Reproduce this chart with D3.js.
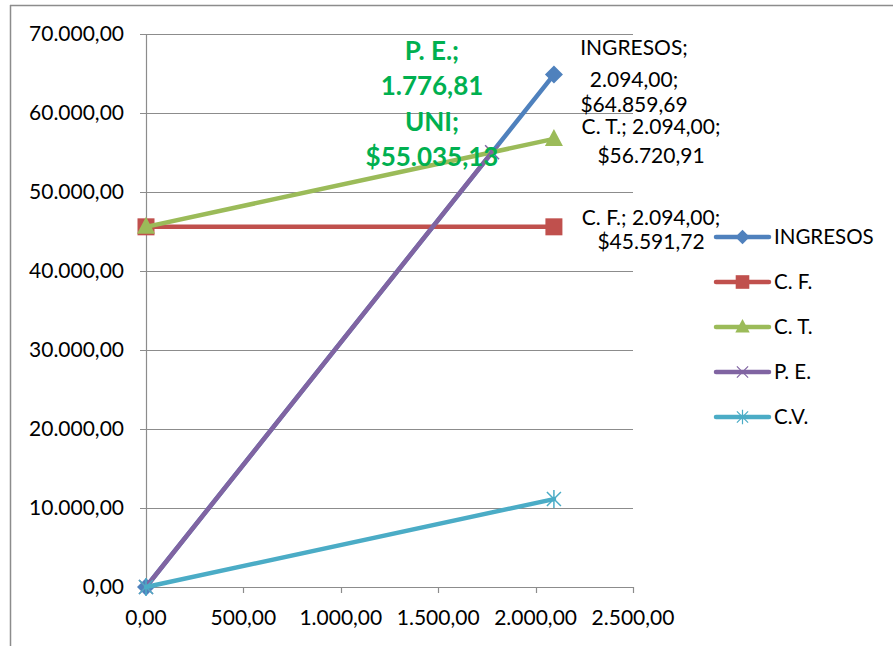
<!DOCTYPE html>
<html>
<head>
<meta charset="utf-8">
<script src="https://cdn.jsdelivr.net/npm/d3@7"></script>
<style>
  html, body { margin: 0; padding: 0; background: #fff; }
  svg text { font-family: Lato, "Open Sans", sans-serif; }
</style>
</head>
<body>
<svg id="chart" width="893" height="646"></svg>
<script>
// Break-even chart: income, fixed cost, total cost, break-even point, variable cost
const seriesNames = ["INGRESOS", "C. F.", "C. T.", "P. E.", "C.V."];
const seriesColors = ["#4F81BD", "#C0504D", "#9BBB59", "#8064A2", "#4BACC6"];
const seriesMarkers = ["diamond", "square", "triangle", "x", "asterisk"];

const ingresos = [[0, 0], [2094, 64859.69]];
const costoFijo = [[0, 45591.72], [2094, 45591.72]];
const costoTotal = [[0, 45591.72], [2094, 56720.91]];
const puntoEquilibrio = [[0, 0], [1776.81, 55035.13]];
const costoVariable = [[0, 0], [2094, 11129.19]];

const xTicks = [0, 500, 1000, 1500, 2000, 2500];
const yTicks = [0, 10000, 20000, 30000, 40000, 50000, 60000, 70000];

const seriesData = [ingresos, costoFijo, costoTotal, puntoEquilibrio, costoVariable];

// Spanish-style number format: 70.000,00
const esLocale = d3.formatLocale({ decimal: ",", thousands: ".", grouping: [3], currency: ["$", ""] });
const fmt = esLocale.format(",.2f");
const money = esLocale.format("$,.2f");

const svg = d3.select("#chart");

// outer frame (only top and left edges visible)
svg.append("line").attr("x1", 10).attr("x2", 893).attr("y1", 5.5).attr("y2", 5.5)
  .attr("stroke", "#8c8c8c").attr("stroke-width", 1.5);
svg.append("line").attr("x1", 10.5).attr("x2", 10.5).attr("y1", 5).attr("y2", 646)
  .attr("stroke", "#8c8c8c").attr("stroke-width", 1.5);

const x = d3.scaleLinear().domain([0, 2500]).range([146, 633]);
const y = d3.scaleLinear().domain([0, 70000]).range([587, 34]);

// horizontal gridlines with small left tick
svg.append("g").selectAll("line").data(yTicks).join("line")
  .attr("x1", 140).attr("x2", x(2500))
  .attr("y1", d => Math.round(y(d)) + 0.5).attr("y2", d => Math.round(y(d)) + 0.5)
  .attr("stroke", "#8c8c8c").attr("stroke-width", 1.2);

// y axis line
svg.append("line").attr("x1", x(0) + 0.5).attr("x2", x(0) + 0.5)
  .attr("y1", y(70000)).attr("y2", y(0))
  .attr("stroke", "#8c8c8c").attr("stroke-width", 1.2);

// x axis ticks
svg.append("g").selectAll("line").data(xTicks).join("line")
  .attr("x1", d => Math.round(x(d)) + 0.5).attr("x2", d => Math.round(x(d)) + 0.5)
  .attr("y1", y(0)).attr("y2", y(0) + 6)
  .attr("stroke", "#8c8c8c").attr("stroke-width", 1.2);

// tick labels
svg.append("g").selectAll("text").data(yTicks).join("text")
  .attr("x", 124).attr("y", d => y(d)).attr("dy", "0.35em")
  .attr("text-anchor", "end").attr("font-size", 21).attr("fill", "#000")
  .text(d => fmt(d));

svg.append("g").selectAll("text").data(xTicks).join("text")
  .attr("x", d => x(d)).attr("y", 618).attr("dy", "0.35em")
  .attr("text-anchor", "middle").attr("font-size", 21).attr("fill", "#000")
  .text(d => fmt(d));

// marker drawing
function drawMarker(g, type, color, cx, cy) {
  const m = g.append("g").attr("transform", `translate(${cx},${cy})`);
  if (type === "diamond") {
    m.append("path").attr("d", "M0,-9L9,0L0,9L-9,0Z").attr("fill", color);
  } else if (type === "square") {
    m.append("rect").attr("x", -8.5).attr("y", -8.5).attr("width", 17).attr("height", 17).attr("fill", color);
  } else if (type === "triangle") {
    m.append("path").attr("d", "M0,-10L9,7L-9,7Z").attr("fill", color);
  } else if (type === "x") {
    m.append("path").attr("d", "M-7,-7L7,7M-7,7L7,-7").attr("stroke", color).attr("stroke-width", 1.5);
  } else if (type === "asterisk") {
    m.append("path").attr("d", "M-7,-7L7,7M-7,7L7,-7M0,-9L0,9").attr("stroke", color).attr("stroke-width", 1.5);
  }
}

const line = d3.line().x(d => x(d[0])).y(d => y(d[1]));

const plot = svg.append("g");
seriesData.forEach((data, i) => {
  const g = plot.append("g");
  g.append("path").datum(data).attr("d", line)
    .attr("fill", "none").attr("stroke", seriesColors[i])
    .attr("stroke-width", 4.5).attr("stroke-linecap", "round");
  data.forEach(d => drawMarker(g, seriesMarkers[i], seriesColors[i], x(d[0]), y(d[1])));
});

// data labels
function multiLabel(lines, cx, ys, opts) {
  const t = svg.append("text").attr("text-anchor", "middle")
    .attr("font-size", opts.size).attr("fill", opts.color)
    .attr("font-weight", opts.weight || "normal");
  lines.forEach((s, k) => {
    t.append("tspan").attr("x", cx).attr("y", ys[k]).attr("dy", "0.35em").text(s);
  });
}

const pe = puntoEquilibrio[1];
multiLabel(["P. E.;", fmt(pe[0]), "UNI;", money(pe[1])], 432, [51, 86, 122, 157],
  { size: 26, color: "#00B050", weight: "bold" });

const ing = ingresos[1];
multiLabel(["INGRESOS;", fmt(ing[0]) + ";", money(ing[1])], 634, [48, 80, 105],
  { size: 21, color: "#000" });

const ct = costoTotal[1];
multiLabel(["C. T.; " + fmt(ct[0]) + ";", money(ct[1])], 651, [127, 156],
  { size: 21, color: "#000" });

const cf = costoFijo[1];
multiLabel(["C. F.; " + fmt(cf[0]) + ";", money(cf[1])], 651, [218, 242],
  { size: 21, color: "#000" });

// legend
const legend = svg.append("g");
seriesNames.forEach((name, i) => {
  const ly = 237 + i * 45;
  const g = legend.append("g");
  g.append("line").attr("x1", 716).attr("x2", 769).attr("y1", ly).attr("y2", ly)
    .attr("stroke", seriesColors[i]).attr("stroke-width", 4.5).attr("stroke-linecap", "round");
  const s = 0.8;
  const mg = g.append("g").attr("transform", `translate(${742.5},${ly}) scale(${s})`);
  drawMarker(mg, seriesMarkers[i], seriesColors[i], 0, 0);
  g.append("text").attr("x", 774).attr("y", ly).attr("dy", "0.35em")
    .attr("font-size", 20.5).attr("fill", "#000").text(name);
});
</script>
</body>
</html>
